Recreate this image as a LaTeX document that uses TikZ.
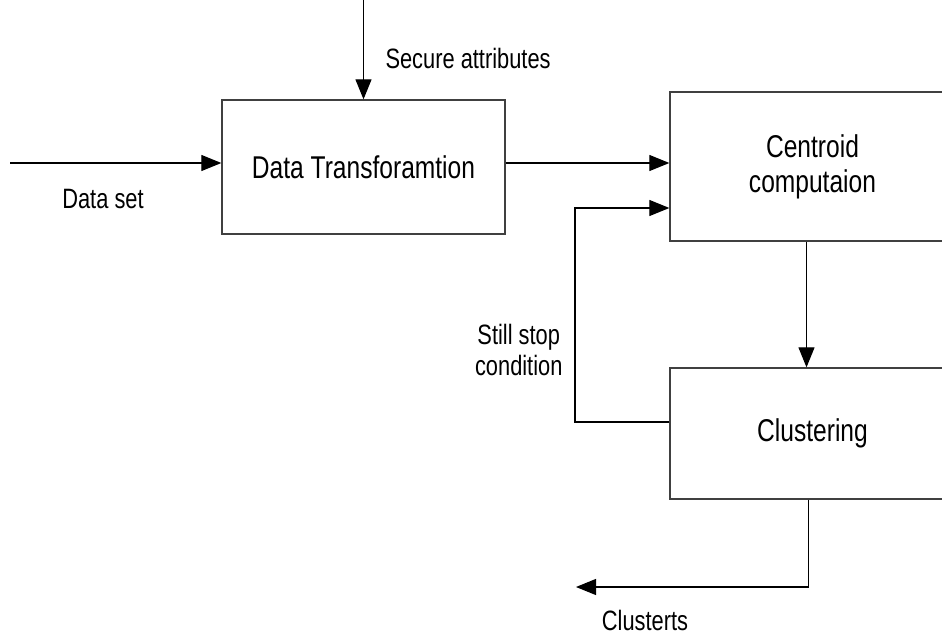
\documentclass[tikz,border=0pt]{standalone}
\usepackage{fontspec}
\setmainfont{Liberation Sans}[FakeStretch=0.78]
\usetikzlibrary{arrows.meta,positioning}

\begin{document}
\begin{tikzpicture}[x=1pt,y=-1pt,>={Triangle[length=20pt,width=16pt]},
    block/.style={draw=black!75,line width=1.3pt,rectangle,inner sep=0pt,
      align=center,font=\fontsize{31.5}{35}\selectfont},
    flow/.style={line width=1.1pt,->},
    tag/.style={font=\fontsize{28}{31}\selectfont,align=center}]

  \useasboundingbox (0,0) rectangle (942,636);
  \clip (0,0) rectangle (942,636);

  % ================= 处理模块 =================
  \node[block,minimum width=283pt,minimum height=134pt] (trans) at (363.5,167)
    {Data Transforamtion};
  \node[block,minimum width=285pt,minimum height=149pt] (cent) at (812.5,166.5)
    {Centroid\\computaion};
  \node[block,minimum width=285pt,minimum height=131pt] (clus) at (812.5,433.5)
    {Clustering};

  % ================= 输入 =================
  \coordinate (datain) at (10,163);
  \coordinate (attrin) at (363.5,0);
  \draw[flow] (datain) -- (datain -| trans.west);
  \node[tag] (dataset) at (103,199) {Data set};
  \draw[flow] (attrin) -- (trans.north);
  \node[tag,anchor=west] (secure) at (382,58) {Secure attributes};

  % ================= 模块之间 =================
  \draw[flow] ([yshift=4pt]trans.east) -- ([yshift=4pt]trans.east -| cent.west);
  \draw[flow] ([xshift=-6pt]cent.south) -- ([xshift=-6pt]clus.north);

  % 反馈回路
  \coordinate (loopx) at (575,0);
  \draw[flow] ([yshift=11.5pt]clus.west) -| (loopx |- 0,208)
    -- ([yshift=-41.5pt]cent.west);
  \node[tag,anchor=east] (still) at (566,350) {Still stop\\condition};

  % ================= 输出 =================
  \coordinate (clusout) at (576,587);
  \draw[flow] ([xshift=-4pt]clus.south) |- (clusout);
  \node[tag] (result) at (645,620) {Clusterts};

\end{tikzpicture}
\end{document}
